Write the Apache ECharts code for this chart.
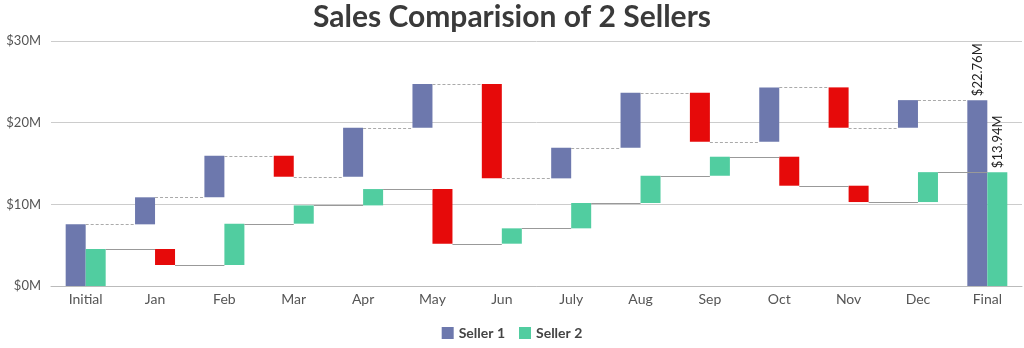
<!DOCTYPE html>
<html>
<head>
<meta charset="utf-8">
<script src="https://cdn.jsdelivr.net/npm/echarts@6/dist/echarts.min.js"></script>
<style>html,body{margin:0;padding:0;background:#fff}#c{width:1024px;height:348px}</style>
</head>
<body>
<div id="c"></div>
<script>
const categories = ['Initial','Jan','Feb','Mar','Apr','May','Jun','July','Aug','Sep','Oct','Nov','Dec','Final'];
// Initial value followed by monthly changes ($M)
const seller1Changes = [7.55, 3.31, 5.09, -2.57, 6.00, 5.34, -11.54, 3.75, 6.73, -6.00, 6.66, -4.94, 3.38];
const seller2Changes = [4.53, -1.96, 5.06, 2.24, 2.00, -6.69, 1.88, 3.10, 3.34, 2.33, -3.55, -2.00, 3.66];
const yTicks = [0, 10, 20, 30];

const BLUE = '#6D78AD', GREEN = '#51CDA0', RED = '#E60A0A';
const FONT = 'Lato, "Open Sans", sans-serif';

function build(changes, color) {
  const base = [], delta = [], levels = [];
  let cum = 0;
  changes.forEach((c, i) => {
    const prev = cum;
    cum = +(cum + c).toFixed(2);
    levels.push(cum);
    if (c >= 0) { base.push(prev); delta.push({value: c, itemStyle: {color: color}}); }
    else { base.push(cum); delta.push({value: -c, itemStyle: {color: RED}}); }
  });
  base.push(0);
  delta.push({value: cum, itemStyle: {color: color},
    label: {show: true, position: 'top', rotate: 90, align: 'left', verticalAlign: 'middle',
      distance: 4, color: '#222', fontSize: 13, fontFamily: FONT,
      formatter: p => '$' + p.value.toFixed(2) + 'M'}});
  return {base, delta, levels};
}
const s1 = build(seller1Changes, BLUE);
const s2 = build(seller2Changes, GREEN);
const BW = 20;

function connector(levels, dashed, offL, offR) {
  return {
    type: 'custom', z: 5, silent: true,
    data: levels.map((v, i) => [i, v]),
    renderItem: function (params, api) {
      const i = api.value(0), v = api.value(1);
      const p0 = api.coord([i, v]);
      const p1 = api.coord([i + 1, v]);
      return {
        type: 'line',
        shape: {x1: p0[0] + offL, y1: Math.round(p0[1]) + 0.5, x2: p1[0] + offR, y2: Math.round(p0[1]) + 0.5},
        style: {stroke: dashed ? '#aaaaaa' : '#999999', lineWidth: 1, lineDash: dashed ? [3, 2] : null}
      };
    }
  };
}

const chart = echarts.init(document.getElementById('c'));
chart.setOption({
  animation: false,
  title: {text: 'Sales Comparision of 2 Sellers', left: 'center', top: -3,
    textStyle: {fontSize: 30, fontWeight: 'bold', color: '#3a3a3a', fontFamily: FONT}},
  legend: {bottom: 3, left: 'center', data: ['Seller 1', 'Seller 2'], itemWidth: 12, itemHeight: 12, itemGap: 14,
    icon: 'rect', textStyle: {fontSize: 14, fontWeight: 'bold', color: '#444', fontFamily: FONT}},
  grid: {left: 51, right: 2, top: 41, bottom: 62},
  xAxis: {type: 'category', data: categories,
    axisLine: {lineStyle: {color: '#bbbbbb'}},
    axisTick: {alignWithLabel: true, length: 5, lineStyle: {color: '#bbbbbb'}},
    axisLabel: {fontSize: 14, color: '#555', fontFamily: FONT, margin: 6}},
  yAxis: {type: 'value', min: yTicks[0], max: yTicks[yTicks.length - 1], interval: 10,
    axisLine: {show: false}, axisTick: {show: false},
    splitLine: {lineStyle: {color: '#cccccc'}},
    axisLabel: {fontSize: 13, color: '#555', fontFamily: FONT, margin: 10, formatter: v => '$' + v + 'M'}},
  series: [
    {name: 'b1', type: 'bar', stack: 's1', barWidth: BW, barGap: '0%', itemStyle: {color: 'transparent'}, data: s1.base, silent: true},
    {name: 'Seller 1', type: 'bar', stack: 's1', barWidth: BW, barGap: '0%', itemStyle: {color: BLUE}, data: s1.delta},
    {name: 'b2', type: 'bar', stack: 's2', barWidth: BW, barGap: '0%', itemStyle: {color: 'transparent'}, data: s2.base, silent: true},
    {name: 'Seller 2', type: 'bar', stack: 's2', barWidth: BW, barGap: '0%', itemStyle: {color: GREEN}, data: s2.delta},
    connector(s1.levels, true, 0, -BW),
    connector(s2.levels, false, BW, 0)
  ]
});
</script>
</body>
</html>
